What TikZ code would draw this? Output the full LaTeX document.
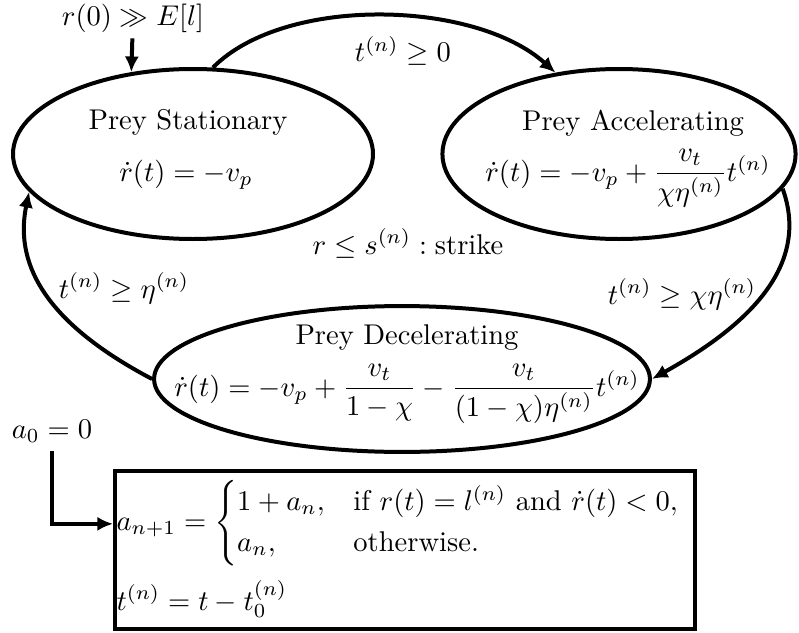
\documentclass[tikz,border=0pt]{standalone}
\usepackage{amsmath}
\usetikzlibrary{shapes.geometric,arrows.meta}
\begin{document}
\begin{tikzpicture}[x=0.3503pt,y=-0.3503pt,
  state/.style={ellipse,draw,line width=1.4pt,inner sep=0pt},
  lbl/.style={anchor=base,inner sep=2pt},
  txt/.style={anchor=base,inner sep=0pt},
  arr/.style={line width=1.4pt,-{Latex[length=5.5pt,width=5pt]}},
  eqbox/.style={draw,line width=1.4pt,anchor=north west,inner sep=0pt}
]
\useasboundingbox (0,0) rectangle (799,632);
% states
\node[state,minimum width=126.1pt,minimum height=59.55pt] (s) at (193,154) {};
\node[state,minimum width=123.7pt,minimum height=59.55pt] (a) at (619,154) {};
\node[state,minimum width=173.7pt,minimum height=51.1pt] (d) at (402,379) {};
% state texts
\node[txt] (st) at (188,129) {Prey Stationary};
\node[txt] (se) at (186,181) {$\dot{r}(t) = -v_p$};
\node[txt] (at) at (633,130) {Prey Accelerating};
\node[txt] (ae) at (628,181) {$\dot{r}(t) = -v_p + \dfrac{v_t}{\chi\eta^{(n)}}t^{(n)}$};
\node[txt] (dt) at (407,344) {Prey Decelerating};
\node[txt] (de) at (407,396) {$\dot{r}(t) = -v_p + \dfrac{v_t}{1-\chi} - \dfrac{v_t}{(1-\chi)\eta^{(n)}}t^{(n)}$};
% labels
\node[lbl] (r0) at (133,25) {$r(0) \gg E[l]$};
\node[lbl] (l1) at (403,62) {$t^{(n)} \geq 0$};
\node[lbl] (l2) at (408,254) {$r \leq s^{(n)} : \text{strike}$};
\node[lbl] (l3) at (124,298) {$t^{(n)} \geq \eta^{(n)}$};
\node[lbl] (l4) at (682,304) {$t^{(n)} \geq \chi\eta^{(n)}$};
\node[lbl,inner sep=3pt] (a0) at (52,438) {$a_0 = 0$};
% box
\node[eqbox,minimum width=203.2pt,minimum height=55.3pt] (box) at (113,469) {};
\node[anchor=base west,inner sep=0pt] (eqa) at (116,530)
  {$a_{n+1} = \begin{cases} 1 + a_n, & \text{if } r(t) = l^{(n)} \text{ and } \dot{r}(t) < 0,\\ a_n, & \text{otherwise.}\end{cases}$};
\node[anchor=base west,inner sep=0pt] (eqb) at (116,610) {$t^{(n)} = t - t_0^{(n)}$};
% connectors
\draw[arr] (r0) -- (s.127);
\draw[arr] (s.77) .. controls (285,-5) and (475,0) .. (a.128);
\draw[arr] (a.-12) .. controls (812,270) and (740,330) .. (d.0);
\draw[arr] (d.180) .. controls (40,320) and (15,260) .. (s.193);
\draw[arr] (a0) |- (box.west |- eqa.mid west);
\end{tikzpicture}
\end{document}
